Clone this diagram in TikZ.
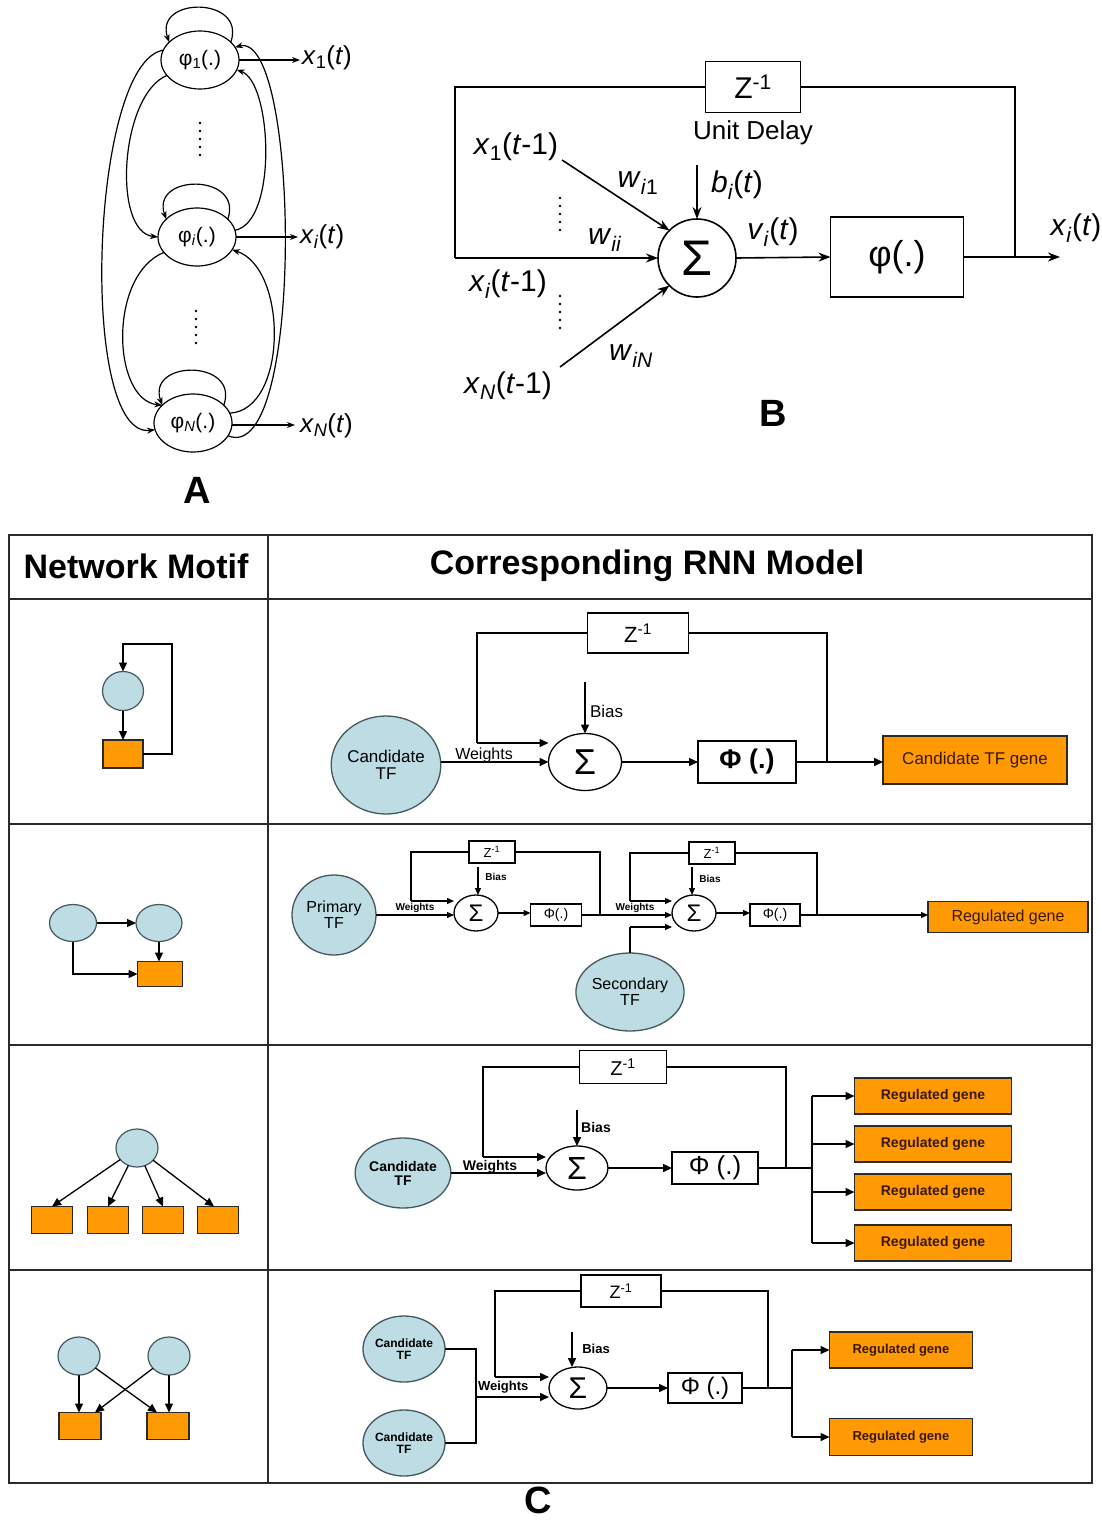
\documentclass[tikz,border=0pt]{standalone}
\usepackage{fontspec}
\setmainfont{Liberation Sans}
\usetikzlibrary{arrows.meta,shapes.geometric,calc}
\definecolor{tfblue}{HTML}{BDDCE3}
\definecolor{tfline}{HTML}{44585E}
\definecolor{gorange}{HTML}{FF9A05}
\definecolor{dk}{HTML}{2A2A2A}
\definecolor{gtext}{HTML}{3A1805}
\newcommand{\fs}[1]{\fontsize{#1}{#1}\selectfont}
\begin{document}
\begin{tikzpicture}[x=1pt,y=-1pt,
  every node/.style={inner sep=0pt, outer sep=0pt},
  elA/.style={draw, ellipse, line width=1.2pt, minimum width=78pt, minimum height=58pt, font=\fs{21}},
  lnA/.style={line width=1.2pt},
  tipA/.style={-{Stealth[length=8pt,width=6pt]}},
  lblA/.style={anchor=west, font=\fs{26}},
  lnB/.style={line width=1.6pt},
  tipB/.style={-{Stealth[length=12pt,width=9pt]}},
  lblB/.style={font=\fs{30}},
  boxB/.style={draw, line width=1.6pt},
  tbl/.style={draw=dk, line width=1.6pt},
  hdr/.style={font=\bfseries\fs{34}},
  plab/.style={font=\bfseries\fs{38}},
  mc/.style={draw=tfline, fill=tfblue, ellipse, line width=1.2pt},
  mr/.style={draw=dk, fill=gorange, line width=1.2pt},
  marr/.style={line width=1.3pt, -{Triangle[length=9pt,width=8pt]}},
  tf/.style={draw=tfline, fill=tfblue, ellipse, line width=1.3pt, align=center},
  sumC/.style={draw, ellipse, line width=1.3pt},
  boxC/.style={draw, line width=1.3pt},
  gene/.style={draw=dk, fill=gorange, line width=1.3pt, text=gtext},
  lnC/.style={line width=1.5pt},
  arrC/.style={line width=1.5pt, -{Triangle[length=9pt,width=8pt]}},
  arrS/.style={line width=1.3pt, -{Triangle[length=7pt,width=6pt]}},
  lnS/.style={line width=1.3pt}
]
\useasboundingbox (0,0) rectangle (1102,1523);
\fill[white] (0,0) rectangle (1102,1523);

% ================= Panel A =================
\node[elA] (p1) at (200,60) {φ\textsubscript{1}(.)};
\node[elA] (pi) at (197,237) {φ\textsubscript{\textit{i}}(.)};
\node[elA] (pN) at (193,423) {φ\textsubscript{\textit{N}}(.)};
% self loops
\draw[lnA,tipA] (p1.30) .. controls +(16,-46) and +(-16,-46) .. (p1.150);
\draw[lnA,tipA] (pi.30) .. controls +(16,-46) and +(-16,-46) .. (pi.150);
\draw[lnA,tipA] (pN.30) .. controls +(16,-46) and +(-16,-46) .. (pN.150);
% left curves
\draw[lnA,tipA] (p1.165) .. controls (90,62) and (78,440) .. (pN.190);
\draw[lnA,tipA] (p1.205) .. controls (120,95) and (112,232) .. (pi.180);
\draw[lnA,tipA] (pi.205) .. controls (108,275) and (112,400) .. (pN.150);
% right curves
\draw[lnA,tipA] (pi.10) .. controls (278,222) and (272,82) .. (p1.345);
\draw[lnA,tipA] (pN.15) .. controls (288,410) and (288,268) .. (pi.340);
\draw[lnA,tipA] (pN.340) .. controls (305,468) and (300,30) .. (p1.20);
% outputs
\coordinate (o1) at (300,60);
\coordinate (oi) at (298,237);
\coordinate (oN) at (295,425);
\draw[lnA,tipA] (p1.east) -- (o1);
\draw[lnA,tipA] (pi.east) -- (oi);
\draw[lnA,tipA] (pN.east |- oN) -- (oN);
\node[lblA] (lx1) at (302,58) {\textit{x}\textsubscript{1}(\textit{t})};
\node[lblA] (lxi) at (300,237) {\textit{x}\textsubscript{\textit{i}}(\textit{t})};
\node[lblA] (lxN) at (300,426) {\textit{x}\textsubscript{\textit{N}}(\textit{t})};
\foreach \yy in {123,131,139,147,155} \fill (200,\yy) circle (1.3pt);
\foreach \yy in {311,319,327,335,343} \fill (196,\yy) circle (1.3pt);
\node[plab] (labA) at (197,490) {A};

% ================= Panel B =================
\node[boxB, minimum width=95pt, minimum height=51pt, font=\fs{30}] (bz) at (753,87) {Z\textsuperscript{-1}};
\node[font=\fs{26}] (bud) at (753,133) {Unit Delay};
\node[draw, circle, line width=1.6pt, minimum size=78pt, font=\fs{50}] (bs) at (697,258) {Σ};
\node[boxB, minimum width=133pt, minimum height=80pt, font=\fs{36}] (bphi) at (897,257) {φ(.)};
\coordinate (bj) at (1015,257);
\coordinate (bout) at (1060,257);
\coordinate (btl) at (455,87);
\coordinate (bbl) at (455,258);
\coordinate (bb) at (697,165);
\coordinate (bx1s) at (562,160);
\coordinate (bxNs) at (560,367);
\draw[lnB] (bphi.east) -- (bj) -- (bj |- bz.east) -- (bz.east);
\draw[lnB] (bz.west) -- (btl) -- (bbl);
\draw[lnB,tipB] (bbl) -- (bs.west);
\draw[lnB,tipB] (bx1s) -- (bs.135);
\draw[lnB,tipB] (bxNs) -- (bs.225);
\draw[lnB,tipB] (bb) -- (bs.north);
\draw[lnB,tipB] (bs.east) -- (bphi.west);
\draw[lnB,tipB] (bj) -- (bout);
\node[lblB] (bl1) at (516,147) {\textit{x}\textsubscript{1}(\textit{t}-1)};
\node[lblB] (bli) at (508,284) {\textit{x}\textsubscript{\textit{i}}(\textit{t}-1)};
\node[lblB] (blN) at (508,386) {\textit{x}\textsubscript{\textit{N}}(\textit{t}-1)};
\node[lblB] (bw1) at (638,183) {\textit{w}\textsubscript{\textit{i}1}};
\node[lblB] (bwi) at (605,240) {\textit{w}\textsubscript{\textit{ii}}};
\node[lblB] (bwN) at (631,356) {\textit{w}\textsubscript{\textit{iN}}};
\node[lblB] (bbi) at (737,185) {\textit{b}\textsubscript{\textit{i}}(\textit{t})};
\node[lblB] (bvi) at (773,232) {\textit{v}\textsubscript{\textit{i}}(\textit{t})};
\node[lblB] (bxo) at (1076,228) {\textit{x}\textsubscript{\textit{i}}(\textit{t})};
\foreach \yy in {198,206,214,222,230} \fill (560,\yy) circle (1.3pt);
\foreach \yy in {296,304,312,320,328} \fill (560,\yy) circle (1.3pt);
\node[plab] (labB) at (773,413) {B};

% ================= Panel C table =================
\draw[tbl] (9,535) rectangle (1092,1483);
\draw[tbl] (268,535) -- (268,1483);
\draw[tbl] (9,599) -- (1092,599);
\draw[tbl] (9,824) -- (1092,824);
\draw[tbl] (9,1045) -- (1092,1045);
\draw[tbl] (9,1270) -- (1092,1270);
\node[hdr] (h1) at (136,566) {Network Motif};
\node[hdr] (h2) at (647,566) {Corresponding RNN Model};
\node[plab] (labC) at (538,1500) {C};

% ---- motifs ----
% row 1
\node[mc, minimum width=41pt, minimum height=39pt] (m1c) at (123,691) {};
\node[mr, minimum width=40pt, minimum height=28pt] (m1r) at (123,754) {};
\coordinate (m1a) at (172,644);
\draw[marr] (m1c) -- (m1r);
\draw[marr] (m1r.east) -| (m1a) -| (m1c.north);
% row 2
\node[mc, minimum width=47pt, minimum height=37pt] (m2a) at (73,923) {};
\node[mc, minimum width=46pt, minimum height=37pt] (m2b) at (159,923) {};
\node[mr, minimum width=45pt, minimum height=25pt] (m2r) at (160,974) {};
\draw[marr] (m2a) -- (m2b);
\draw[marr] (m2b.south) -- (m2b.south |- m2r.north);
\draw[marr] (m2a.south) |- (m2r.west);
% row 3
\node[mc, minimum width=42pt, minimum height=38pt] (m3c) at (137,1148) {};
\node[mr, minimum width=41pt, minimum height=27pt] (m3r1) at (52,1220) {};
\node[mr, minimum width=41pt, minimum height=27pt] (m3r2) at (108,1220) {};
\node[mr, minimum width=41pt, minimum height=27pt] (m3r3) at (163,1220) {};
\node[mr, minimum width=41pt, minimum height=27pt] (m3r4) at (218,1220) {};
\draw[marr] (m3c) -- (m3r1.north);
\draw[marr] (m3c) -- (m3r2.north);
\draw[marr] (m3c) -- (m3r3.north);
\draw[marr] (m3c) -- ($(m3r4.north)+(-4,0)$);
% row 4
\node[mc, minimum width=42pt, minimum height=38pt] (m4a) at (79,1356) {};
\node[mc, minimum width=42pt, minimum height=38pt] (m4b) at (169,1356) {};
\node[mr, minimum width=42pt, minimum height=27pt] (m4ra) at (80,1426) {};
\node[mr, minimum width=42pt, minimum height=27pt] (m4rb) at (168,1426) {};
\draw[marr] (m4a.south) -- (m4a.south |- m4ra.north);
\draw[marr] (m4b.south) -- (m4b.south |- m4rb.north);
\draw[marr] (m4a) -- ($(m4rb.north)+(-11,0)$);
\draw[marr] (m4b) -- ($(m4ra.north)+(15,0)$);

% ---- RNN row 1 ----
\node[tf, minimum width=98pt, minimum height=98pt, font=\fs{17}] (r1tf) at (386,765) {Candidate\\TF};
\node[sumC, minimum width=73pt, minimum height=57pt, font=\fs{36}] (r1s) at (585,762) {Σ};
\node[boxC, minimum width=98pt, minimum height=42pt, font=\bfseries\fs{27}] (r1p) at (747,762) {Φ (.)};
\node[boxC, minimum width=101pt, minimum height=40pt, font=\fs{22}] (r1z) at (638,633) {Z\textsuperscript{-1}};
\node[gene, minimum width=184pt, minimum height=48pt, font=\fs{17}] (r1g) at (975,760) {Candidate TF gene};
\coordinate (r1fl) at (477,743);
\coordinate (r1j) at (827,762);
\coordinate (r1b) at (585,682);
\draw[lnC] (r1z.west) -| (r1fl);
\draw[arrC] (r1fl) -- (r1fl -| r1s.west);
\draw[arrC] (r1tf.east |- r1s.west) -- (r1s.west);
\node[font=\fs{16}, anchor=base] (r1w) at (484,759) {Weights};
\draw[arrC] (r1b) -- (r1s.north);
\node[font=\fs{17}, anchor=west] (r1bl) at (590,711) {Bias};
\draw[arrC] (r1s.east) -- (r1p.west);
\draw[lnC] (r1z.east) -| (r1j);
\draw[arrC] (r1p.east) -- (r1g.west |- r1p.east);

% ---- RNN row 2 ----
\node[tf, minimum width=84pt, minimum height=80pt, font=\fs{16}] (r2p) at (334,915) {Primary\\TF};
\node[sumC, minimum width=44pt, minimum height=36pt, font=\fs{24}] (r2s1) at (476,913) {Σ};
\node[boxC, minimum width=51pt, minimum height=22pt, font=\fs{14}] (r2f1) at (556,915) {Φ(.)};
\node[boxC, minimum width=46pt, minimum height=22pt, font=\fs{13}] (r2z1) at (492,852) {Z\textsuperscript{-1}};
\node[sumC, minimum width=44pt, minimum height=36pt, font=\fs{24}] (r2s2) at (694,913) {Σ};
\node[boxC, minimum width=50pt, minimum height=22pt, font=\fs{14}] (r2f2) at (775,915) {Φ(.)};
\node[boxC, minimum width=46pt, minimum height=22pt, font=\fs{13}] (r2z2) at (712,853) {Z\textsuperscript{-1}};
\node[tf, minimum width=86pt, minimum height=78pt, font=\fs{16}] (r2sec) at (630,992) {Secondary\\TF};
\node[gene, minimum width=160pt, minimum height=31pt, font=\fs{16}] (r2g) at (1008,917) {Regulated gene};
\coordinate (r2l1) at (411,901);
\coordinate (r2j1) at (600,915);
\coordinate (r2l2) at (630,901);
\coordinate (r2j2) at (817,915);
\coordinate (r2sj) at (630,927);
\coordinate (r2b1) at (478,867);
\coordinate (r2b2) at (692,867);
\draw[lnS] (r2z1.west) -| (r2l1);
\draw[arrS] (r2l1) -- (r2l1 -| r2s1.west);
\draw[arrS] (r2p.east) -- (r2p.east -| r2s1.west) node[pos=0.5, above=2pt, font=\bfseries\fs{10}] (r2w1) {Weights};
\draw[arrS] (r2b1) -- (r2b1 |- r2s1.north);
\node[font=\bfseries\fs{10}] (r2bl1) at (496,877) {Bias};
\draw[arrS] (r2s1.east) -- (r2s1.east -| r2f1.west);
\draw[lnS] (r2z1.east) -| (r2j1);
\draw[arrS] (r2f1.east) -- (r2f1.east -| r2s2.west);
\node[font=\bfseries\fs{10}] (r2w2) at (635,908) {Weights};
\draw[lnS] (r2z2.west) -| (r2l2);
\draw[arrS] (r2l2) -- (r2l2 -| r2s2.west);
\draw[arrS] (r2b2) -- (r2b2 |- r2s2.north);
\node[font=\bfseries\fs{10}] (r2bl2) at (710,879) {Bias};
\draw[lnS] (r2sec.north) -- (r2sj);
\draw[arrS] (r2sj) -- (r2sj -| r2s2.west);
\draw[arrS] (r2s2.east) -- (r2s2.east -| r2f2.west);
\draw[lnS] (r2z2.east) -| (r2j2);
\draw[arrS] (r2f2.east) -- (r2f2.east -| r2g.west);

% ---- RNN row 3 ----
\node[tf, minimum width=86pt, minimum height=70pt, font=\bfseries\fs{14}] (r3tf) at (403,1173) {Candidate\\TF};
\node[sumC, minimum width=62pt, minimum height=44pt, font=\fs{32}] (r3s) at (577,1168) {Σ};
\node[boxC, minimum width=86pt, minimum height=32pt, font=\fs{26}] (r3f) at (715,1168) {Φ (.)};
\node[boxC, minimum width=87pt, minimum height=33pt, font=\fs{20}] (r3z) at (623,1067) {Z\textsuperscript{-1}};
\node[gene, minimum width=157pt, minimum height=36pt, font=\bfseries\fs{14}] (r3g1) at (933,1096) {Regulated gene};
\node[gene, minimum width=157pt, minimum height=36pt, font=\bfseries\fs{14}] (r3g2) at (933,1144) {Regulated gene};
\node[gene, minimum width=157pt, minimum height=36pt, font=\bfseries\fs{14}] (r3g3) at (933,1192) {Regulated gene};
\node[gene, minimum width=157pt, minimum height=36pt, font=\bfseries\fs{14}] (r3g4) at (933,1243) {Regulated gene};
\coordinate (r3l) at (483,1157);
\coordinate (r3j) at (786,1168);
\coordinate (r3t) at (812,1168);
\coordinate (r3t1) at (812,1096);
\coordinate (r3t4) at (812,1243);
\coordinate (r3b) at (577,1110);
\draw[lnC] (r3z.west) -| (r3l);
\draw[arrC] (r3l) -- (r3l -| r3s.west);
\draw[arrC] (r3tf.east) -- (r3tf.east -| r3s.west);
\node[font=\bfseries\fs{14}, anchor=base] (r3w) at (490,1170) {Weights};
\draw[arrC] (r3b) -- (r3s.north);
\node[font=\bfseries\fs{14}] (r3bl) at (596,1127) {Bias};
\draw[arrC] (r3s.east) -- (r3f.west);
\draw[lnC] (r3z.east) -| (r3j);
\draw[lnC] (r3f.east) -- (r3t);
\draw[lnC] (r3t1) -- (r3t4);
\draw[arrC] (r3t1) -- (r3g1.west);
\draw[arrC] (r3t1 |- r3g2.west) -- (r3g2.west);
\draw[arrC] (r3t1 |- r3g3.west) -- (r3g3.west);
\draw[arrC] (r3t4) -- (r3g4.west);

% ---- RNN row 4 ----
\node[tf, minimum width=80pt, minimum height=66pt, font=\bfseries\fs{12}] (r4tf1) at (404,1349) {Candidate\\TF};
\node[tf, minimum width=80pt, minimum height=66pt, font=\bfseries\fs{12}] (r4tf2) at (404,1443) {Candidate\\TF};
\node[sumC, minimum width=58pt, minimum height=42pt, font=\fs{30}] (r4s) at (578,1388) {Σ};
\node[boxC, minimum width=74pt, minimum height=30pt, font=\fs{24}] (r4f) at (705,1388) {Φ (.)};
\node[boxC, minimum width=80pt, minimum height=32pt, font=\fs{18}] (r4z) at (621,1291) {Z\textsuperscript{-1}};
\node[gene, minimum width=143pt, minimum height=36pt, font=\bfseries\fs{13}] (r4g1) at (901,1350) {Regulated gene};
\node[gene, minimum width=143pt, minimum height=37pt, font=\bfseries\fs{13}] (r4g2) at (901,1437) {Regulated gene};
\coordinate (r4k1) at (476,1349);
\coordinate (r4k2) at (476,1443);
\coordinate (r4kw) at (476,1397);
\coordinate (r4l) at (495,1377);
\coordinate (r4j) at (768,1388);
\coordinate (r4t) at (792,1388);
\coordinate (r4t1) at (792,1350);
\coordinate (r4t2) at (792,1437);
\coordinate (r4b) at (572,1332);
\draw[lnC] (r4tf1.east) -- (r4k1) -- (r4k2) -- (r4tf2.east);
\draw[arrC] (r4kw) -- (r4kw -| r4s.west);
\node[font=\bfseries\fs{13}, anchor=south west] (r4w) at (478,1393) {Weights};
\draw[lnC] (r4z.west) -| (r4l);
\draw[arrC] (r4l) -- (r4l -| r4s.west);
\draw[arrC] (r4b) -- (r4b |- r4s.north);
\node[font=\bfseries\fs{13}] (r4bl) at (596,1349) {Bias};
\draw[arrC] (r4s.east) -- (r4f.west);
\draw[lnC] (r4z.east) -| (r4j);
\draw[lnC] (r4f.east) -- (r4t);
\draw[lnC] (r4t1) -- (r4t2);
\draw[arrC] (r4t1) -- (r4g1.west);
\draw[arrC] (r4t2) -- (r4g2.west);
\end{tikzpicture}
\end{document}
